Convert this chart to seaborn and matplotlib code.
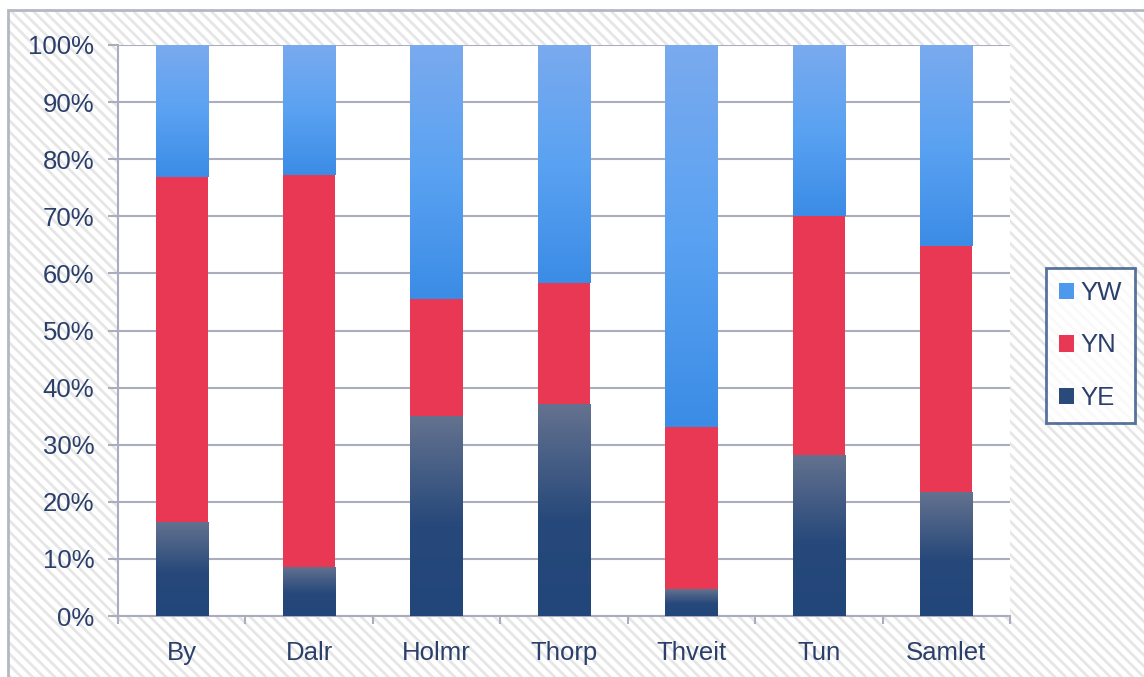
import numpy as np
import pandas as pd
import seaborn as sns
import matplotlib.pyplot as plt
from matplotlib.patches import Rectangle, Patch
from matplotlib.colors import LinearSegmentedColormap

# data (percent of each place)
places = ['By', 'Dalr', 'Holmr', 'Thorp', 'Thveit', 'Tun', 'Samlet']
ye = [16.5, 8.6, 35.0, 37.1, 4.7, 28.2, 21.7]
yn = [60.4, 68.6, 20.5, 21.2, 28.4, 41.9, 43.1]
yw = [23.1, 22.8, 44.5, 41.7, 66.9, 29.9, 35.2]
ticks_y = [0, 10, 20, 30, 40, 50, 60, 70, 80, 90, 100]

df = pd.DataFrame({'place': places, 'YE': ye, 'YN': yn, 'YW': yw})
df['top_yn'] = df['YE'] + df['YN']
df['top_yw'] = df['top_yn'] + df['YW']

txt = '#2b3f6b'
grid_c = '#a9adbd'
fs = 18.5
plt.rcParams['font.family'] = ['Liberation Sans', 'DejaVu Sans']

fig = plt.figure(figsize=(11.44, 6.77), dpi=100)
fig.patch.set_facecolor('white')

# hatched chart background with grey frame
plt.rcParams['hatch.linewidth'] = 2.0
fig.patches.append(Rectangle((8 / 1144, -0.05), 1.1, 1 - 10 / 677 + 0.05, transform=fig.transFigure,
                             facecolor='white', edgecolor='#e6e6e6', lw=0, hatch='\\\\\\', zorder=-2))
fig.patches.append(Rectangle((8 / 1144, -0.05), 1.1, 1 - 10 / 677 + 0.05, transform=fig.transFigure,
                             facecolor='none', edgecolor='#b4b8c4', lw=2, zorder=-1))

ax = fig.add_axes([118 / 1144, 61 / 677, 892 / 1144, 571 / 677])
ax.set_facecolor('white')

sns.barplot(data=df, x='place', y='top_yw', color='#4d9aec', saturation=1, width=0.41, ax=ax, zorder=2)
sns.barplot(data=df, x='place', y='top_yn', color='#e93853', saturation=1, width=0.41, ax=ax, zorder=3)
sns.barplot(data=df, x='place', y='YE', color='#2a4a7a', saturation=1, width=0.41, ax=ax, zorder=4)

n = len(places)
yw_bars = ax.patches[:n]
ye_bars = ax.patches[2 * n:3 * n]

cm_w = LinearSegmentedColormap.from_list('w', ['#3b8ce6', '#5aa2f2', '#7aaaee'])
cm_e = LinearSegmentedColormap.from_list('e', [(0, '#23467a'), (0.45, '#26487a'), (1, '#64728f')])
grad = np.linspace(0, 1, 256).reshape(-1, 1)

for i, p in enumerate(yw_bars):
    x0, w = p.get_x(), p.get_width()
    im = ax.imshow(grad, cmap=cm_w, aspect='auto', origin='lower',
                   extent=(x0, x0 + w, df['top_yn'][i], df['top_yw'][i]), zorder=2.5)
    im.set_clip_path(p)
for i, p in enumerate(ye_bars):
    x0, w = p.get_x(), p.get_width()
    im = ax.imshow(grad, cmap=cm_e, aspect='auto', origin='lower',
                   extent=(x0, x0 + w, 0, df['YE'][i]), zorder=4.5)
    im.set_clip_path(p)

ax.set_xlim(-0.5, n - 0.5)
ax.set_ylim(0, 100)
ax.set_yticks(ticks_y)
ax.set_yticklabels([f'{t}%' for t in ticks_y])
ax.set_xticks(range(n))
ax.set_xticks(np.arange(-0.5, n, 1), minor=True)
ax.set_xlabel('')
ax.set_ylabel('')

ax.grid(axis='y', color=grid_c, lw=1.5, zorder=0)
ax.set_axisbelow(True)
for s in ['top', 'right']:
    ax.spines[s].set_visible(False)
for s in ['left', 'bottom']:
    ax.spines[s].set_color(grid_c)
    ax.spines[s].set_linewidth(1.5)

ax.tick_params(axis='y', colors=grid_c, labelcolor=txt, labelsize=fs, length=7, width=1.5, pad=10)
ax.tick_params(axis='x', which='major', length=0, labelcolor=txt, labelsize=fs, pad=18)
ax.tick_params(axis='x', which='minor', length=6, width=1.5, color=grid_c)

handles = [Patch(facecolor='#4d9aec', label='YW'),
           Patch(facecolor='#e93853', label='YN'),
           Patch(facecolor='#2a4a7a', label='YE')]
leg = fig.legend(handles=handles, loc='center', bbox_to_anchor=(1090.5 / 1144, 1 - 345.5 / 677),
                 frameon=True, fancybox=False, fontsize=fs, labelcolor=txt,
                 handlelength=0.6, handleheight=0.6, handletextpad=0.25, labelspacing=1.1,
                 borderpad=0.5, borderaxespad=0)
leg.get_frame().set_edgecolor('#2e5083')
leg.get_frame().set_linewidth(2)

fig.savefig('out.png', dpi=100)
